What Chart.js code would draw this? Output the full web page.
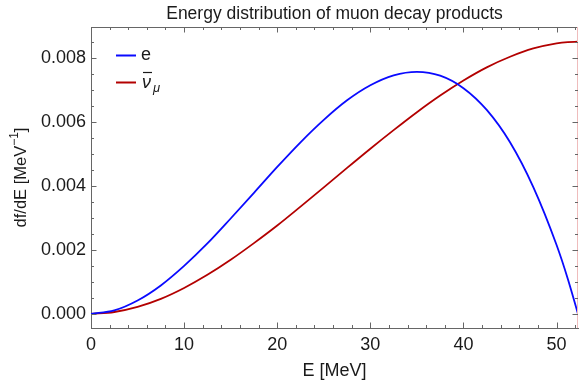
<!DOCTYPE html>
<html>
<head>
<meta charset="utf-8">
<script src="https://cdn.jsdelivr.net/npm/chart.js@4.4.1/dist/chart.umd.min.js"></script>
<style>
  html, body { margin: 0; padding: 0; background: #fff; }
  #wrap { width: 579px; height: 382px; position: relative; }
</style>
</head>
<body>
<div id="wrap"><canvas id="chart"></canvas></div>
<script>
// values
const energy = [0, 2.5, 5, 7.5, 10, 12.5, 15, 17.5, 20, 22.5, 25, 27.5, 30, 32.5, 35, 37.5, 40, 42.5, 45, 47.5, 50, 51.2, 52.3];
const electron = [0, 0.00011, 0.00042, 0.00089, 0.00150, 0.00220, 0.00298, 0.00378, 0.00459, 0.00536, 0.00606, 0.00667, 0.00714, 0.00745, 0.00756, 0.00744, 0.00705, 0.00637, 0.00536, 0.00396, 0.00215, 0.00110, 0];
const antiNuMu = [0, 0.00006, 0.00022, 0.00047, 0.00081, 0.00122, 0.00169, 0.00221, 0.00276, 0.00335, 0.00395, 0.00456, 0.00516, 0.00574, 0.00630, 0.00682, 0.00729, 0.00770, 0.00803, 0.00829, 0.00845, 0.00849, 0.00850];

const xTicks = [0, 10, 20, 30, 40, 50];
const xMinorTicks = [2, 4, 6, 8, 12, 14, 16, 18, 22, 24, 26, 28, 32, 34, 36, 38, 42, 44, 46, 48, 52];
const yTicks = [0, 0.002, 0.004, 0.006, 0.008];
const yMinorTicks = [0.0005, 0.001, 0.0015, 0.0025, 0.003, 0.0035, 0.0045, 0.005, 0.0055, 0.0065, 0.007, 0.0075, 0.0085];

const FONT = '"Liberation Sans", Arial, sans-serif';
const frameColor = '#666';
const blue = '#0a0aff';
const red = '#b30000';

const decorations = {
    id: 'decorations',
    afterDraw(chart) {
        const { ctx, chartArea: a, scales: { x, y } } = chart;
        ctx.save();

        // top and right frame
        ctx.lineWidth = 1;
        ctx.strokeStyle = frameColor;
        ctx.beginPath();
        ctx.moveTo(a.left, a.top + 0.5);
        ctx.lineTo(a.right, a.top + 0.5);
        ctx.stroke();
        ctx.strokeStyle = '#efbcbc';
        ctx.beginPath();
        ctx.moveTo(a.right - 0.5, a.top);
        ctx.lineTo(a.right - 0.5, a.bottom);
        ctx.stroke();

        // inward ticks on all four sides
        ctx.strokeStyle = frameColor;
        const tick = (px, len, horiz) => {
            ctx.beginPath();
            if (horiz) {
                ctx.moveTo(px, a.bottom); ctx.lineTo(px, a.bottom - len);
                ctx.moveTo(px, a.top); ctx.lineTo(px, a.top + len);
            } else {
                ctx.moveTo(a.left, px); ctx.lineTo(a.left + len, px);
                ctx.moveTo(a.right, px); ctx.lineTo(a.right - len, px);
            }
            ctx.stroke();
        };
        xTicks.forEach(v => tick(Math.round(x.getPixelForValue(v)) + 0.5, 5.5, true));
        xMinorTicks.forEach(v => tick(Math.round(x.getPixelForValue(v)) + 0.5, 3, true));
        yTicks.forEach(v => tick(Math.round(y.getPixelForValue(v)) + 0.5, 5.5, false));
        yMinorTicks.forEach(v => tick(Math.round(y.getPixelForValue(v)) + 0.5, 3, false));

        // title and axis titles
        ctx.fillStyle = '#1a1a1a';
        ctx.textAlign = 'center';
        ctx.textBaseline = 'middle';
        ctx.font = '17.5px ' + FONT;
        ctx.fillText('Energy distribution of muon decay products', (a.left + a.right) / 2, 14);

        ctx.font = '18px ' + FONT;
        ctx.fillText('E [MeV]', (a.left + a.right) / 2, 371);

        ctx.save();
        ctx.translate(21, (a.top + a.bottom) / 2);
        ctx.rotate(-Math.PI / 2);
        const main = 'df/dE [MeV', sup = '\u22121', end = ']';
        ctx.font = '16.5px ' + FONT;
        const w1 = ctx.measureText(main).width, w3 = ctx.measureText(end).width;
        ctx.font = '12px ' + FONT;
        const w2 = ctx.measureText(sup).width;
        let sx = -(w1 + w2 + w3) / 2;
        ctx.textAlign = 'left';
        ctx.font = '16.5px ' + FONT;
        ctx.fillText(main, sx, 0);
        ctx.font = '12px ' + FONT;
        ctx.fillText(sup, sx + w1, -6);
        ctx.font = '16.5px ' + FONT;
        ctx.fillText(end, sx + w1 + w2, 0);
        ctx.restore();

        // legend
        const lx = 116, lw = 20;
        ctx.lineWidth = 2;
        ctx.strokeStyle = blue;
        ctx.beginPath(); ctx.moveTo(lx, 55.5); ctx.lineTo(lx + lw, 55.5); ctx.stroke();
        ctx.strokeStyle = red;
        ctx.beginPath(); ctx.moveTo(lx, 82.5); ctx.lineTo(lx + lw, 82.5); ctx.stroke();

        ctx.textAlign = 'left';
        ctx.textBaseline = 'alphabetic';
        ctx.fillStyle = '#1a1a1a';
        ctx.font = '18px ' + FONT;
        ctx.fillText('e', 141, 60);
        ctx.font = 'italic 18px ' + FONT;
        ctx.fillText('\u03bd', 142, 88);
        const nw = ctx.measureText('\u03bd').width;
        ctx.lineWidth = 1.2;
        ctx.strokeStyle = '#1a1a1a';
        ctx.beginPath(); ctx.moveTo(143, 72.5); ctx.lineTo(142 + nw + 1, 72.5); ctx.stroke();
        ctx.font = 'italic 13px ' + FONT;
        ctx.fillText('\u03bc', 142 + nw + 2, 92);

        ctx.restore();
    }
};

const toPoints = ys => energy.map((e, i) => ({ x: e, y: ys[i] }));

new Chart(document.getElementById('chart'), {
    type: 'line',
    data: {
        datasets: [
            { label: 'e', data: toPoints(electron), borderColor: blue, borderWidth: 1.8 },
            { label: '\u03bd\u0304\u03bc', data: toPoints(antiNuMu), borderColor: red, borderWidth: 1.8 },
        ],
    },
    options: {
        responsive: true,
        maintainAspectRatio: false,
        animation: false,
        devicePixelRatio: 1,
        layout: { padding: { top: 27, right: 1, left: 0, bottom: 0 } },
        elements: { point: { radius: 0 }, line: { cubicInterpolationMode: 'monotone', fill: false } },
        plugins: { legend: { display: false }, tooltip: { enabled: false }, title: { display: false } },
        scales: {
            x: {
                type: 'linear',
                min: 0,
                max: 52.3,
                afterBuildTicks: s => { s.ticks = xTicks.map(v => ({ value: v })); },
                afterFit: s => { s.height = 54; },
                grid: { display: false, drawTicks: false },
                border: { display: true, color: frameColor, width: 1 },
                ticks: { padding: 6, color: '#1a1a1a', font: { family: FONT, size: 18 }, maxRotation: 0, callback: v => String(v) },
            },
            y: {
                min: -0.00044,
                max: 0.00896,
                afterBuildTicks: s => { s.ticks = yTicks.map(v => ({ value: v })); },
                afterFit: s => { s.width = 91; },
                grid: { display: false, drawTicks: false },
                border: { display: true, color: frameColor, width: 1 },
                ticks: { padding: 5, color: '#1a1a1a', font: { family: FONT, size: 18 }, callback: v => v.toFixed(3) },
            },
        },
    },
    plugins: [decorations],
});
</script>
</body>
</html>
